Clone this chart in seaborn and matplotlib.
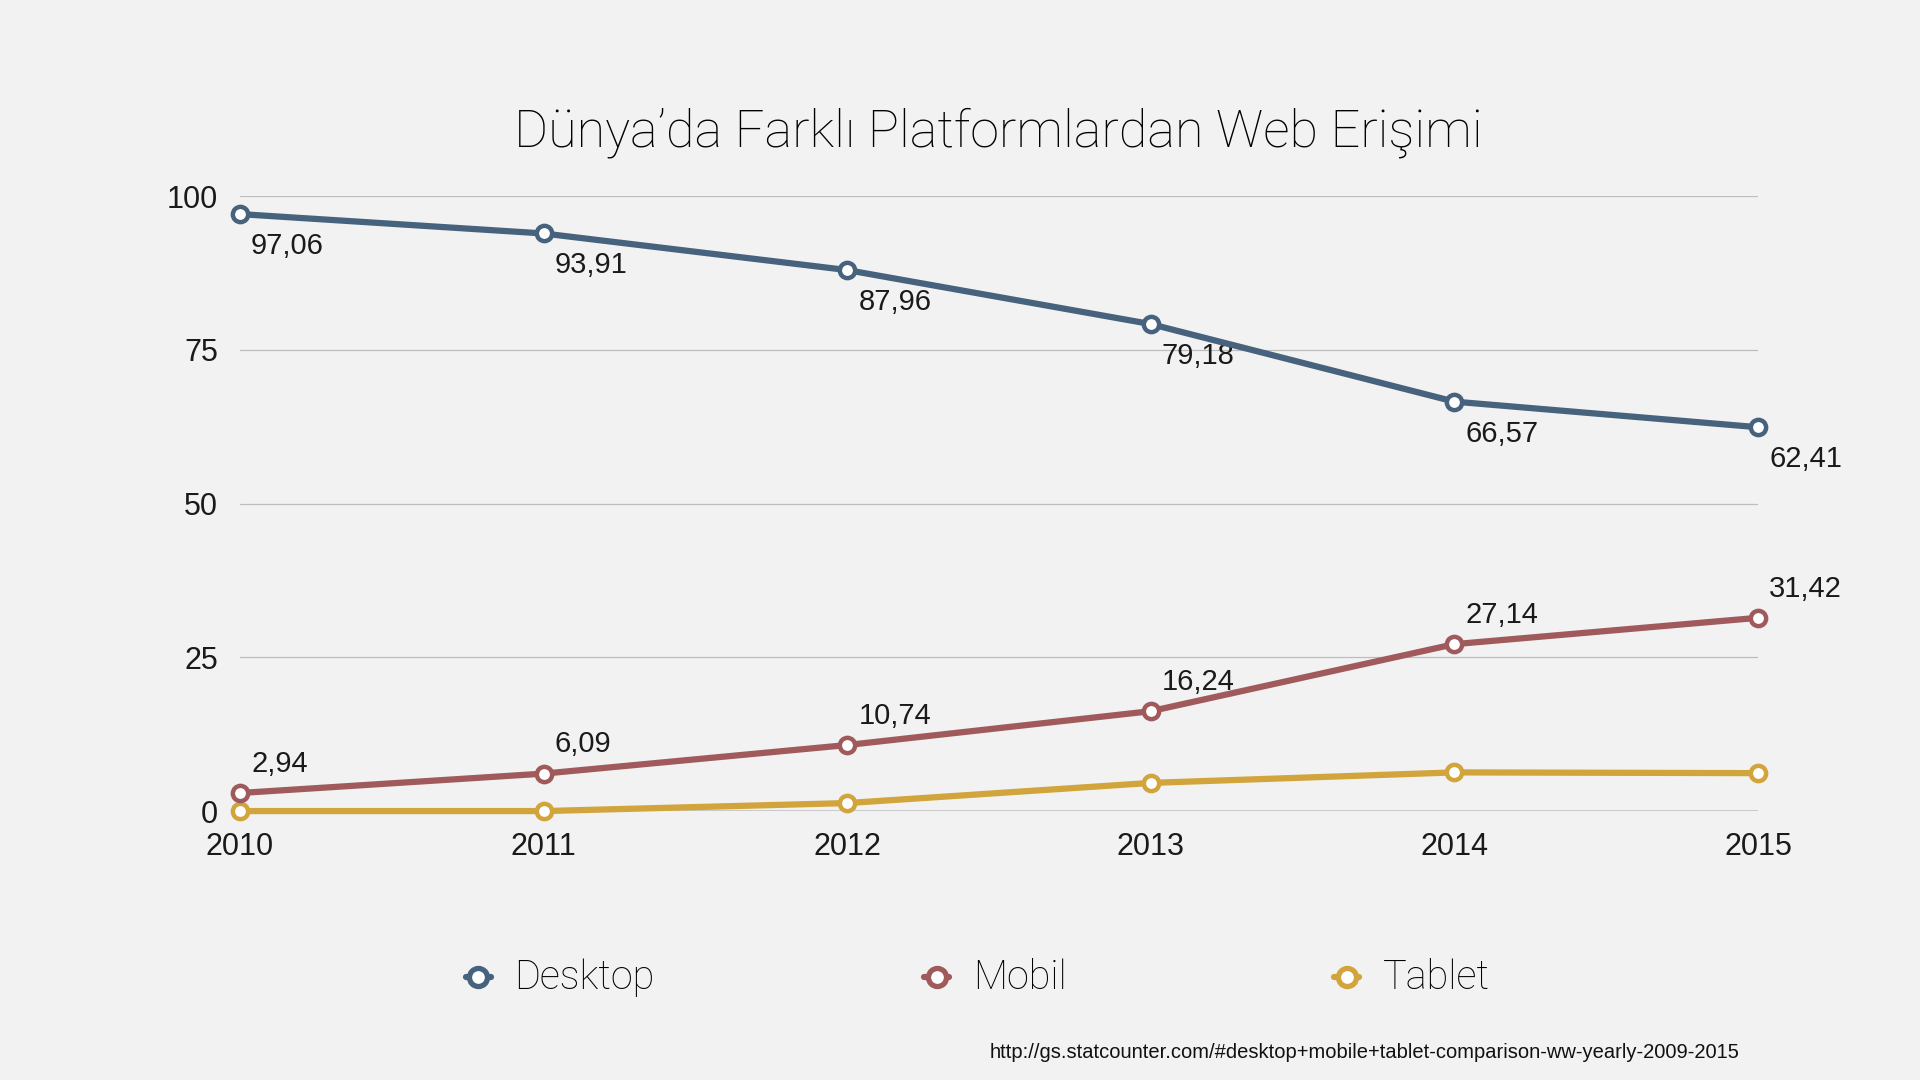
import pandas as pd
import matplotlib
matplotlib.use('Agg')
import matplotlib.pyplot as plt
from matplotlib.lines import Line2D
import seaborn as sns

years = [2010, 2011, 2012, 2013, 2014, 2015]
desktop = [97.06, 93.91, 87.96, 79.18, 66.57, 62.41]
mobil = [2.94, 6.09, 10.74, 16.24, 27.14, 31.42]
tablet = [0.0, 0.0, 1.3, 4.58, 6.29, 6.17]
series_names = ['Desktop', 'Mobil', 'Tablet']
y_ticks = [0, 25, 50, 75, 100]

title = 'Dünya’da Farklı Platformlardan Web Erişimi'
source = 'http://gs.statcounter.com/#desktop+mobile+tablet-comparison-ww-yearly-2009-2015'

colors = {'Desktop': '#46627d', 'Mobil': '#a05a5b', 'Tablet': '#d1a43c'}
bg = '#f2f2f2'
num_font = ['Liberation Sans', 'DejaVu Sans']
light_font = ['Roboto', 'DejaVu Sans']


def fmt(v):
    return f'{v:.2f}'.replace('.', ',')


def main():
    sns.set_theme(style='white')
    plt.rcParams['font.family'] = num_font

    df = pd.DataFrame({'year': years * 3,
                       'value': desktop + mobil + tablet,
                       'platform': sum([[n] * len(years) for n in series_names], [])})

    fig = plt.figure(figsize=(19.2, 10.8), dpi=100, facecolor=bg)
    ax = fig.add_axes([0.125, 0.249, 0.7906, 0.5695])
    ax.set_facecolor(bg)

    # draw in reverse so desktop ends up on top
    for name in series_names[::-1]:
        sub = df[df['platform'] == name]
        c = colors[name]
        sns.lineplot(data=sub, x='year', y='value', ax=ax, color=c, linewidth=4.5,
                     marker='o', markersize=11, markerfacecolor='white',
                     markeredgecolor=c, markeredgewidth=3.2, clip_on=False, zorder=5)

    # value labels
    for x, v in zip(years, desktop):
        ax.annotate(fmt(v), (x, v), xytext=(8, -23), textcoords='offset points',
                    ha='left', va='center', fontsize=21, color='#1a1a1a')
    for x, v in zip(years, mobil):
        ax.annotate(fmt(v), (x, v), xytext=(8, 21), textcoords='offset points',
                    ha='left', va='center', fontsize=21, color='#1a1a1a')

    ax.set_xlim(2010, 2015)
    ax.set_ylim(0, 100)
    ax.set_yticks(y_ticks)
    ax.set_yticklabels([str(t) for t in y_ticks])
    ax.set_xticks(years)
    ax.set_xticklabels([str(y) for y in years])
    ax.tick_params(axis='y', length=0, pad=16, labelsize=22, labelcolor='#1a1a1a')
    ax.tick_params(axis='x', length=0, pad=15, labelsize=22, labelcolor='#1a1a1a')
    for t in y_ticks[1:]:
        ax.axhline(t, color='#bdbdbd', linewidth=0.9, zorder=1)
    ax.axhline(0, color='#222222', linewidth=1.0, zorder=1)
    for s in ax.spines.values():
        s.set_visible(False)
    ax.set_xlabel('')
    ax.set_ylabel('')
    if ax.get_legend():
        ax.get_legend().remove()

    fig.text(0.52, 0.877, title, ha='center', va='center', fontsize=37.5,
             color='black', fontweight='light', family=light_font)

    # legend
    legend_x = [0.249, 0.488, 0.7015]
    ly = 0.095
    for name, lx in zip(series_names, legend_x):
        c = colors[name]
        fig.add_artist(Line2D([lx - 0.0065, lx + 0.0065], [ly, ly], transform=fig.transFigure,
                              color=c, linewidth=4.5, marker='', zorder=3))
        fig.add_artist(Line2D([lx], [ly], transform=fig.transFigure, color=c,
                              marker='o', markersize=13, markerfacecolor='white',
                              markeredgecolor=c, markeredgewidth=3.8, zorder=4))
        fig.text(lx + 0.019, ly, name, ha='left', va='center', fontsize=28.5,
                 color='black', fontweight='light', family=light_font)

    fig.text(0.906, 0.025, source, ha='right', va='center', fontsize=14.5, color='#111111')

    fig.savefig('out.png', dpi=100, facecolor=bg)


if __name__ == '__main__':
    main()
